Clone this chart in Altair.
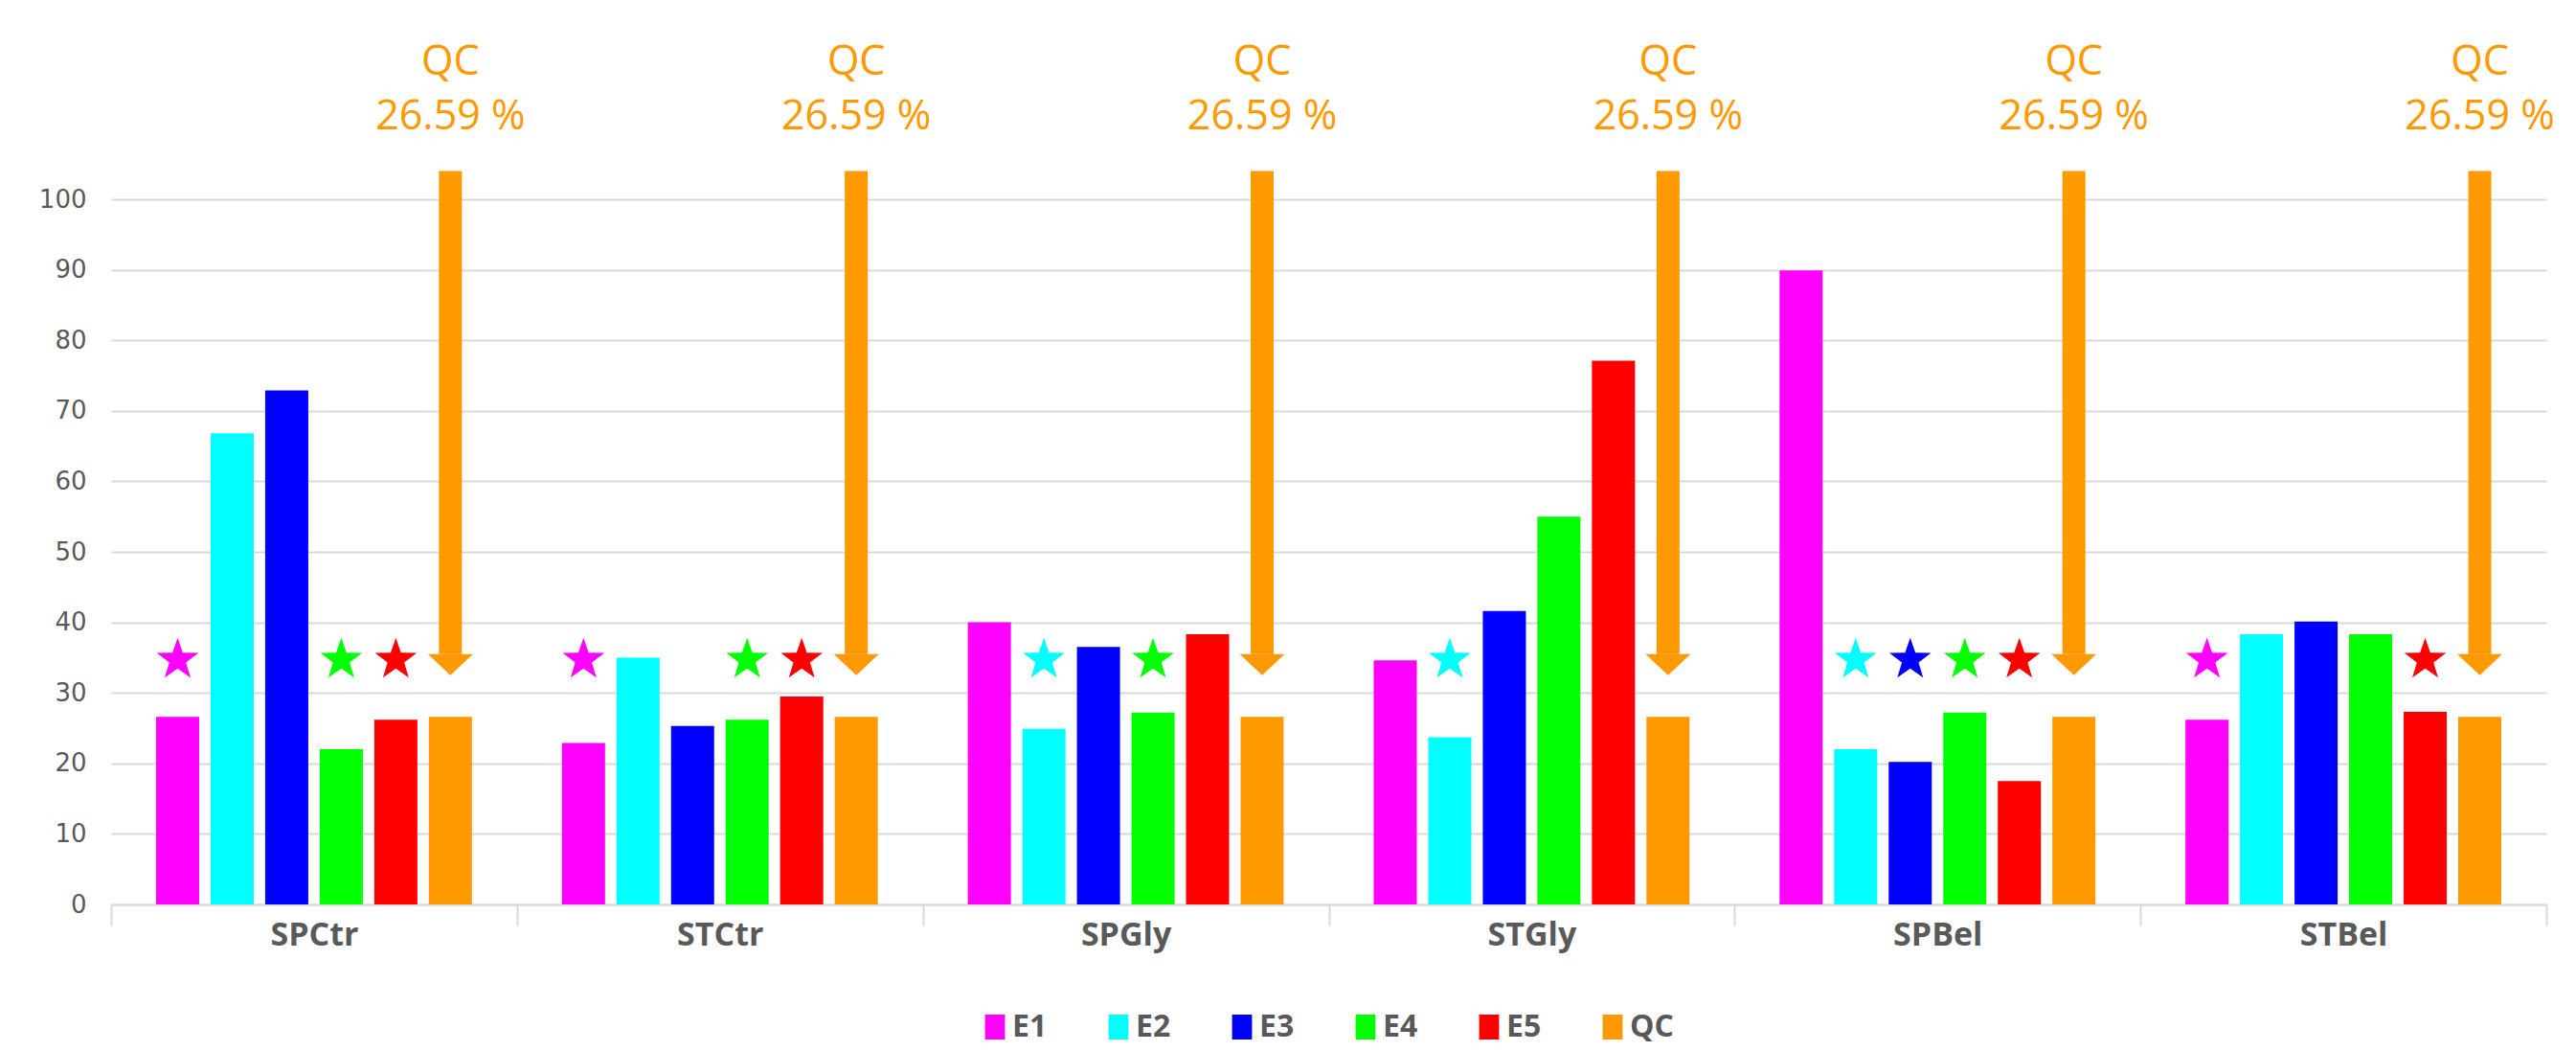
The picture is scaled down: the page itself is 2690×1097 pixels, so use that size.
import altair as alt
import pandas as pd

categories = ["SPCtr", "STCtr", "SPGly", "STGly", "SPBel", "STBel"]
series = ["E1", "E2", "E3", "E4", "E5", "QC"]
E1 = [26.6, 22.9, 40.0, 34.6, 89.9, 26.2]
E2 = [66.8, 35.0, 24.9, 23.7, 22.0, 38.3]
E3 = [72.9, 25.3, 36.5, 41.6, 20.2, 40.1]
E4 = [22.0, 26.2, 27.2, 55.0, 27.2, 38.3]
E5 = [26.2, 29.5, 38.3, 77.1, 17.5, 27.3]
QC = [26.59, 26.59, 26.59, 26.59, 26.59, 26.59]
colors = ["#FF00FF", "#00FFFF", "#0000FF", "#00FF00", "#FF0000", "#FF9900"]
star_cat = ["SPCtr", "SPCtr", "SPCtr", "STCtr", "STCtr", "STCtr", "SPGly", "SPGly",
            "STGly", "SPBel", "SPBel", "SPBel", "SPBel", "STBel", "STBel"]
star_series = ["E1", "E4", "E5", "E1", "E4", "E5", "E2", "E4",
               "E2", "E2", "E3", "E4", "E5", "E1", "E5"]

STAR_LEVEL = 34.7
ARROW_TOP = 104
ARROW_HEAD = 35.5
ORANGE = "#FF9900"
GRAY = "#595959"
GRID = "#D9D9D9"
STAR_PATH = ("M0,-1L0.235,-0.324L0.951,-0.309L0.38,0.124L0.588,0.809L0,0.4"
             "L-0.588,0.809L-0.38,0.124L-0.951,-0.309L-0.235,-0.324Z")
HEAD_PATH = "M-1,0L1,0L0,0.94Z"

vals = [E1, E2, E3, E4, E5, QC]
rows = []
for i, c in enumerate(categories):
    for s, v in zip(series, vals):
        rows.append({"cat": c, "series": s, "value": v[i]})
df = pd.DataFrame(rows)
qc_df = df[df["series"] == "QC"].reset_index(drop=True)
qc_df["label1"] = "QC"
qc_df["label2"] = qc_df["value"].map(lambda v: f"{v:.2f} %")
star_df = pd.DataFrame({"cat": star_cat, "series": star_series})

x_enc = alt.X(
    "cat:N", sort=categories,
    scale=alt.Scale(paddingInner=0, paddingOuter=0),
    axis=alt.Axis(
        title=None, labelAngle=0, tickBand="extent", ticks=True, tickSize=22,
        tickColor=GRID, tickWidth=2, domainColor=GRID, domainWidth=2,
        labelFont="Open Sans", labelFontSize=34, labelBaseline="middle",
        labelFontWeight="bold", labelColor=GRAY, labelPadding=10, grid=False,
    ),
)
xo_enc = alt.XOffset("series:N", sort=series,
                     scale=alt.Scale(paddingInner=0.21, paddingOuter=0.825))
y_scale = alt.Scale(domain=[0, 100], nice=False)
y_axis = alt.Axis(
    title=None, values=list(range(0, 101, 10)), ticks=False, domain=False,
    grid=True, gridColor=GRID, gridWidth=2, labelFont="DejaVu Sans",
    labelFontSize=26, labelColor=GRAY, labelPadding=26,
)
color_scale = alt.Scale(domain=series, range=colors)

bars = alt.Chart(df).mark_bar().encode(
    x=x_enc, xOffset=xo_enc,
    y=alt.Y("value:Q", scale=y_scale, axis=y_axis),
    color=alt.Color(
        "series:N", scale=color_scale, sort=series,
        legend=alt.Legend(
            title=None, orient="none", legendX=907, legendY=848,
            direction="horizontal", symbolType="M-0.8,-1L0.8,-1L0.8,1L-0.8,1Z",
            symbolSize=676, symbolStrokeWidth=0, labelFont="Open Sans",
            labelFontSize=32, labelFontWeight="bold", labelColor=GRAY,
            labelOffset=2, columnPadding=58,
        ),
    ),
)

stars = alt.Chart(star_df).mark_point(
    shape=STAR_PATH, filled=True, size=2100, opacity=1
).encode(
    x=x_enc, xOffset=xo_enc, y=alt.datum(STAR_LEVEL),
    color=alt.Color("series:N", scale=color_scale, legend=None),
)

shaft = alt.Chart(qc_df).mark_rule(color=ORANGE, strokeWidth=24).encode(
    x=x_enc, xOffset=xo_enc, y=alt.datum(ARROW_TOP), y2=alt.datum(ARROW_HEAD),
)

head = alt.Chart(qc_df).mark_point(
    shape=HEAD_PATH, filled=True, size=2209, color=ORANGE, opacity=1,
).encode(x=x_enc, xOffset=xo_enc, y=alt.datum(ARROW_HEAD))

txt1 = alt.Chart(qc_df).mark_text(
    font="Open Sans", fontSize=43, color=ORANGE, baseline="middle", align="center"
).encode(x=x_enc, xOffset=xo_enc, y=alt.value(-143), text="label1:N")

txt2 = alt.Chart(qc_df).mark_text(
    font="Open Sans", fontSize=43, color=ORANGE, baseline="middle", align="center"
).encode(x=x_enc, xOffset=xo_enc, y=alt.value(-86), text="label2:N")

chart = alt.layer(bars, stars, shaft, head, txt1, txt2).properties(
    width=2543, height=736,
    autosize=alt.AutoSizeParams(type="none"),
    padding={"left": 108, "top": 200, "right": 22, "bottom": 145},
).configure_view(stroke=None)

chart.save("out.html", embed_options={"renderer": "svg", "actions": False})
